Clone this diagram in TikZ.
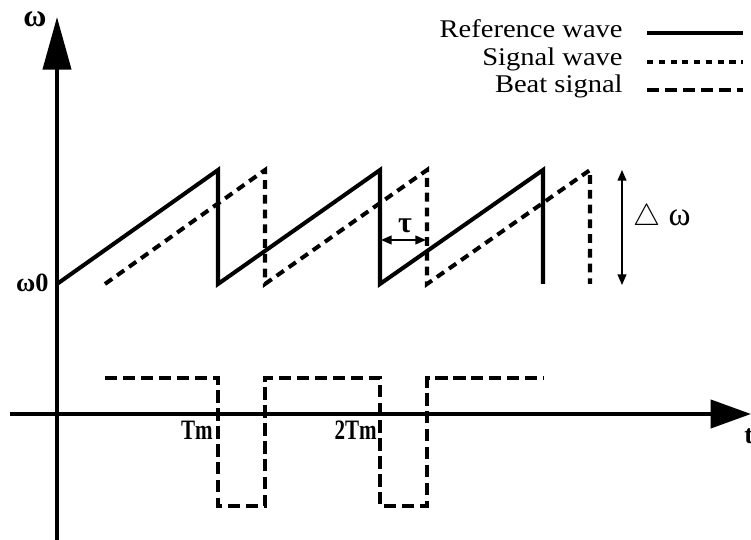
\documentclass[tikz,border=0pt]{standalone}
\usepackage{fontspec}
\setmainfont{Liberation Serif}
\usetikzlibrary{arrows.meta, positioning}

\begin{document}
\begin{tikzpicture}[x=0.02cm, y=-0.02cm,
  axisline/.style={line width=2.2pt, -{Triangle[length=#1, width=16pt]}},
  refw/.style={line width=2.3pt, line join=miter},
  sigw/.style={line width=2.3pt, dash pattern=on 5pt off 3.4pt},
  beatw/.style={line width=2.3pt, dash pattern=on 7pt off 3.2pt},
  dim/.style={line width=0.8pt, {Triangle[length=6pt, width=5pt]}-{Triangle[length=6pt, width=5pt]}},
  lbl/.style={font=\fontsize{15}{18}\selectfont\bfseries, inner sep=0pt},
  tick/.style={font=\fontsize{16}{18}\selectfont\bfseries, xscale=0.75, inner sep=0pt, anchor=base east},
  leg/.style={font=\fontsize{14.5}{17}\selectfont, xscale=1.12, inner sep=0pt, anchor=base east},
]
  \useasboundingbox (0,0) rectangle (751,540);

  % axes
  \coordinate (ybot) at (57,540);
  \coordinate (ytop) at (57,17);
  \coordinate (xleft) at (10,414);
  \coordinate (xright) at (751,414);
  \draw[axisline=30pt] (ybot) -- (ytop);
  \draw[axisline=23pt] (xleft) -- (xright);
  \node[lbl, font=\fontsize{18}{20}\selectfont\bfseries] (omega) at (35,19) {ω};
  \node[lbl, anchor=base east] (omega0) at (49,292) {ω0};
  \node[lbl, anchor=west] (tlabel) at (744,436) {t};
  \node[tick] (tm) at (213,440) {Tm};
  \node[tick] (tm2) at (377,440) {2Tm};

  % waves
  \draw[refw] (57,284) -- (218,170) -- (218,284) -- (380,170) -- (380,284) -- (543,170) -- (543,284);
  \draw[sigw] (105,284) -- (265,170) -- (265,284) -- (427,170) -- (427,284) -- (590,170) -- (590,284);
  \draw[beatw] (105,378) -- (218,378) -- (218,506) -- (265,506) -- (265,378) -- (380,378)
    -- (380,506) -- (427,506) -- (427,378) -- (543,378);

  % tau and delta omega
  \coordinate (tauL) at (381,240);
  \coordinate (tauR) at (426,240);
  \draw[dim] (tauL) -- (tauR);
  \node[lbl, font=\fontsize{17}{18}\selectfont\bfseries] (tau) at (405,226) {τ};
  \coordinate (dwT) at (622,170);
  \coordinate (dwB) at (622,285);
  \draw[dim] (dwT) -- (dwB);
  \node[lbl, font=\fontsize{19}{20}\selectfont] (dw) at (662,218) {$\triangle$ ω};

  % legend
  \node[leg] (legref) at (623,38) {Reference wave};
  \node[leg] (legsig) at (623,66) {Signal wave};
  \node[leg] (legbeat) at (623,93) {Beat signal};
  \coordinate (legrefA) at (647,33);
  \coordinate (legrefB) at (743,33);
  \coordinate (legsigA) at (647,62);
  \coordinate (legsigB) at (743,62);
  \coordinate (legbeatA) at (647,90);
  \coordinate (legbeatB) at (743,90);
  \draw[refw] (legrefA) -- (legrefB);
  \draw[sigw, dash pattern=on 3.5pt off 3.2pt] (legsigA) -- (legsigB);
  \draw[beatw] (legbeatA) -- (legbeatB);
\end{tikzpicture}
\end{document}
